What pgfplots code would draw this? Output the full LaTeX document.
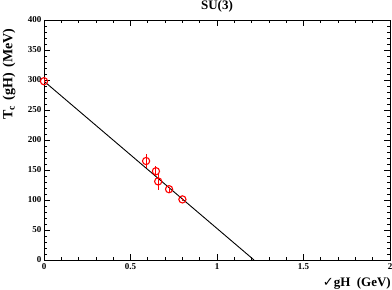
\documentclass[border=0pt]{standalone}
\usepackage{pgfplots}
\pgfplotsset{compat=1.18}
\usepackage{fontspec}
\setmainfont{Liberation Serif}
\newfontfamily\symfont{DejaVu Sans}
\begin{document}
\begin{tikzpicture}
\begin{axis}[
  scale only axis,
  width=346pt, height=240pt,
  xmin=0, xmax=2, ymin=0, ymax=400,
  xtick={0,0.5,1,1.5,2},
  xticklabels={0,0.5,1,1.5,2},
  minor x tick num=4,
  ytick={0,50,100,150,200,250,300,350,400},
  minor y tick num=4,
  tick align=inside,
  major tick length=6pt, minor tick length=3pt,
  tick style={black, line width=0.8pt},
  axis line style={line width=0.9pt},
  /pgf/number format/assume math mode=true,
  tick label style={font=\fontsize{9}{10}\selectfont\bfseries},
  yticklabel style={xshift=1pt},
  title={\bfseries SU(3)},
  title style={font=\fontsize{13}{15}\selectfont, at={(rel axis cs:0.5,1)}, anchor=base, yshift=5pt},
  xlabel={{\symfont ✓}\textbf{gH~~(GeV)}},
  xlabel style={font=\fontsize{13}{15}\selectfont, at={([xshift=1pt,yshift=-26pt]rel axis cs:1,0)}, anchor=base east, inner sep=0pt},
  ylabel={\textbf{T\textsubscript{c}\hspace{5pt}(gH)\hspace{6pt}(MeV)}},
  ylabel style={font=\fontsize{14}{16}\selectfont, at={([xshift=-31.5pt]rel axis cs:0,0.775)}, anchor=base, inner sep=0pt},
]
\addplot[black, line width=0.9pt] coordinates {(0,298) (1.214,0)};
\addplot[red, only marks, mark=o, mark size=3.6pt, line width=1.1pt,
  error bars/.cd, y dir=both, y explicit, error bar style={red, line width=1.1pt}, error mark=none]
  coordinates {
  (0,298) +- (0,3)
  (0.59,165) +- (0,11)
  (0.647,148) +- (0,8)
  (0.66,131) +- (0,14)
  (0.723,118) +- (0,4)
  (0.80,101) +- (0,3)
  };
\end{axis}
\pgfresetboundingbox
\path (current axis.south west) ++(-44pt,-29pt) rectangle ([xshift=2pt,yshift=20pt]current axis.north east);
\end{tikzpicture}
\end{document}
